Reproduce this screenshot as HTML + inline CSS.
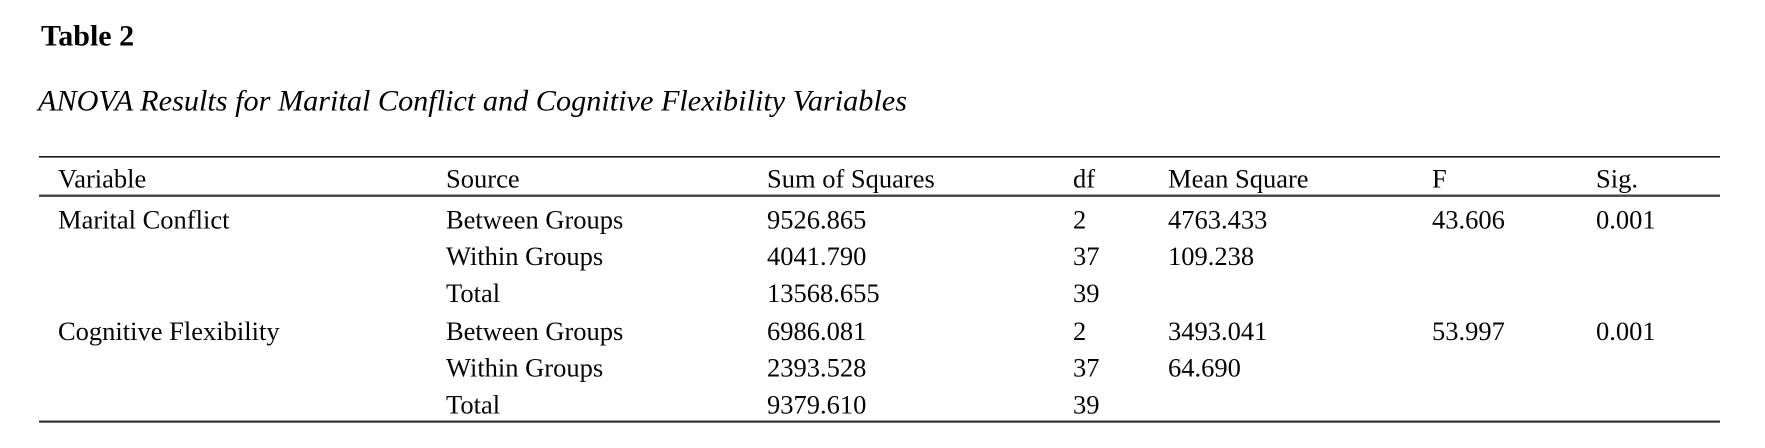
<!DOCTYPE html>
<html>
<head>
<meta charset="utf-8">
<style>
  html, body { margin: 0; padding: 0; background: #ffffff; }
  body { width: 1765px; height: 448px; overflow: hidden; }
  svg { display: block; }
  text { font-family: "Liberation Serif", "Times New Roman", serif; fill: #000; }
  .b { font-size: 26.5px; fill: #050505; }
</style>
</head>
<body>
<svg width="1765" height="448" viewBox="0 0 1765 448" xmlns="http://www.w3.org/2000/svg">
  <rect x="0" y="0" width="1765" height="448" fill="#ffffff"/>
  <text x="41" y="45.5" style="font-size:30px;font-weight:bold;">Table 2</text>
  <text x="38" y="110.5" style="font-size:30px;font-style:italic;" textLength="869" lengthAdjust="spacingAndGlyphs">ANOVA Results for Marital Conflict and Cognitive Flexibility Variables</text>

  <rect x="39" y="156" width="1681" height="1.6" fill="#1e1e1e"/>
  <rect x="39" y="194.5" width="1681" height="2.4" fill="#444444"/>
  <rect x="39" y="420.5" width="1681" height="2.2" fill="#333333"/>

  <g class="b">
    <text class="b" x="58" y="187.3">Variable</text>
    <text class="b" x="446" y="187.3">Source</text>
    <text class="b" x="767" y="187.3">Sum of Squares</text>
    <text class="b" x="1073" y="187.3">df</text>
    <text class="b" x="1168" y="187.3">Mean Square</text>
    <text class="b" x="1432" y="187.3">F</text>
    <text class="b" x="1596" y="187.3">Sig.</text>

    <text class="b" x="58" y="228.3">Marital Conflict</text>
    <text class="b" x="446" y="228.3">Between Groups</text>
    <text class="b" x="767" y="228.3">9526.865</text>
    <text class="b" x="1073" y="228.3">2</text>
    <text class="b" x="1168" y="228.3">4763.433</text>
    <text class="b" x="1432" y="228.3">43.606</text>
    <text class="b" x="1596" y="228.3">0.001</text>

    <text class="b" x="446" y="265">Within Groups</text>
    <text class="b" x="767" y="265">4041.790</text>
    <text class="b" x="1073" y="265">37</text>
    <text class="b" x="1168" y="265">109.238</text>

    <text class="b" x="446" y="302">Total</text>
    <text class="b" x="767" y="302">13568.655</text>
    <text class="b" x="1073" y="302">39</text>

    <text class="b" x="58" y="340">Cognitive Flexibility</text>
    <text class="b" x="446" y="340">Between Groups</text>
    <text class="b" x="767" y="340">6986.081</text>
    <text class="b" x="1073" y="340">2</text>
    <text class="b" x="1168" y="340">3493.041</text>
    <text class="b" x="1432" y="340">53.997</text>
    <text class="b" x="1596" y="340">0.001</text>

    <text class="b" x="446" y="376.7">Within Groups</text>
    <text class="b" x="767" y="376.7">2393.528</text>
    <text class="b" x="1073" y="376.7">37</text>
    <text class="b" x="1168" y="376.7">64.690</text>

    <text class="b" x="446" y="413.3">Total</text>
    <text class="b" x="767" y="413.3">9379.610</text>
    <text class="b" x="1073" y="413.3">39</text>
  </g>
</svg>
</body>
</html>
